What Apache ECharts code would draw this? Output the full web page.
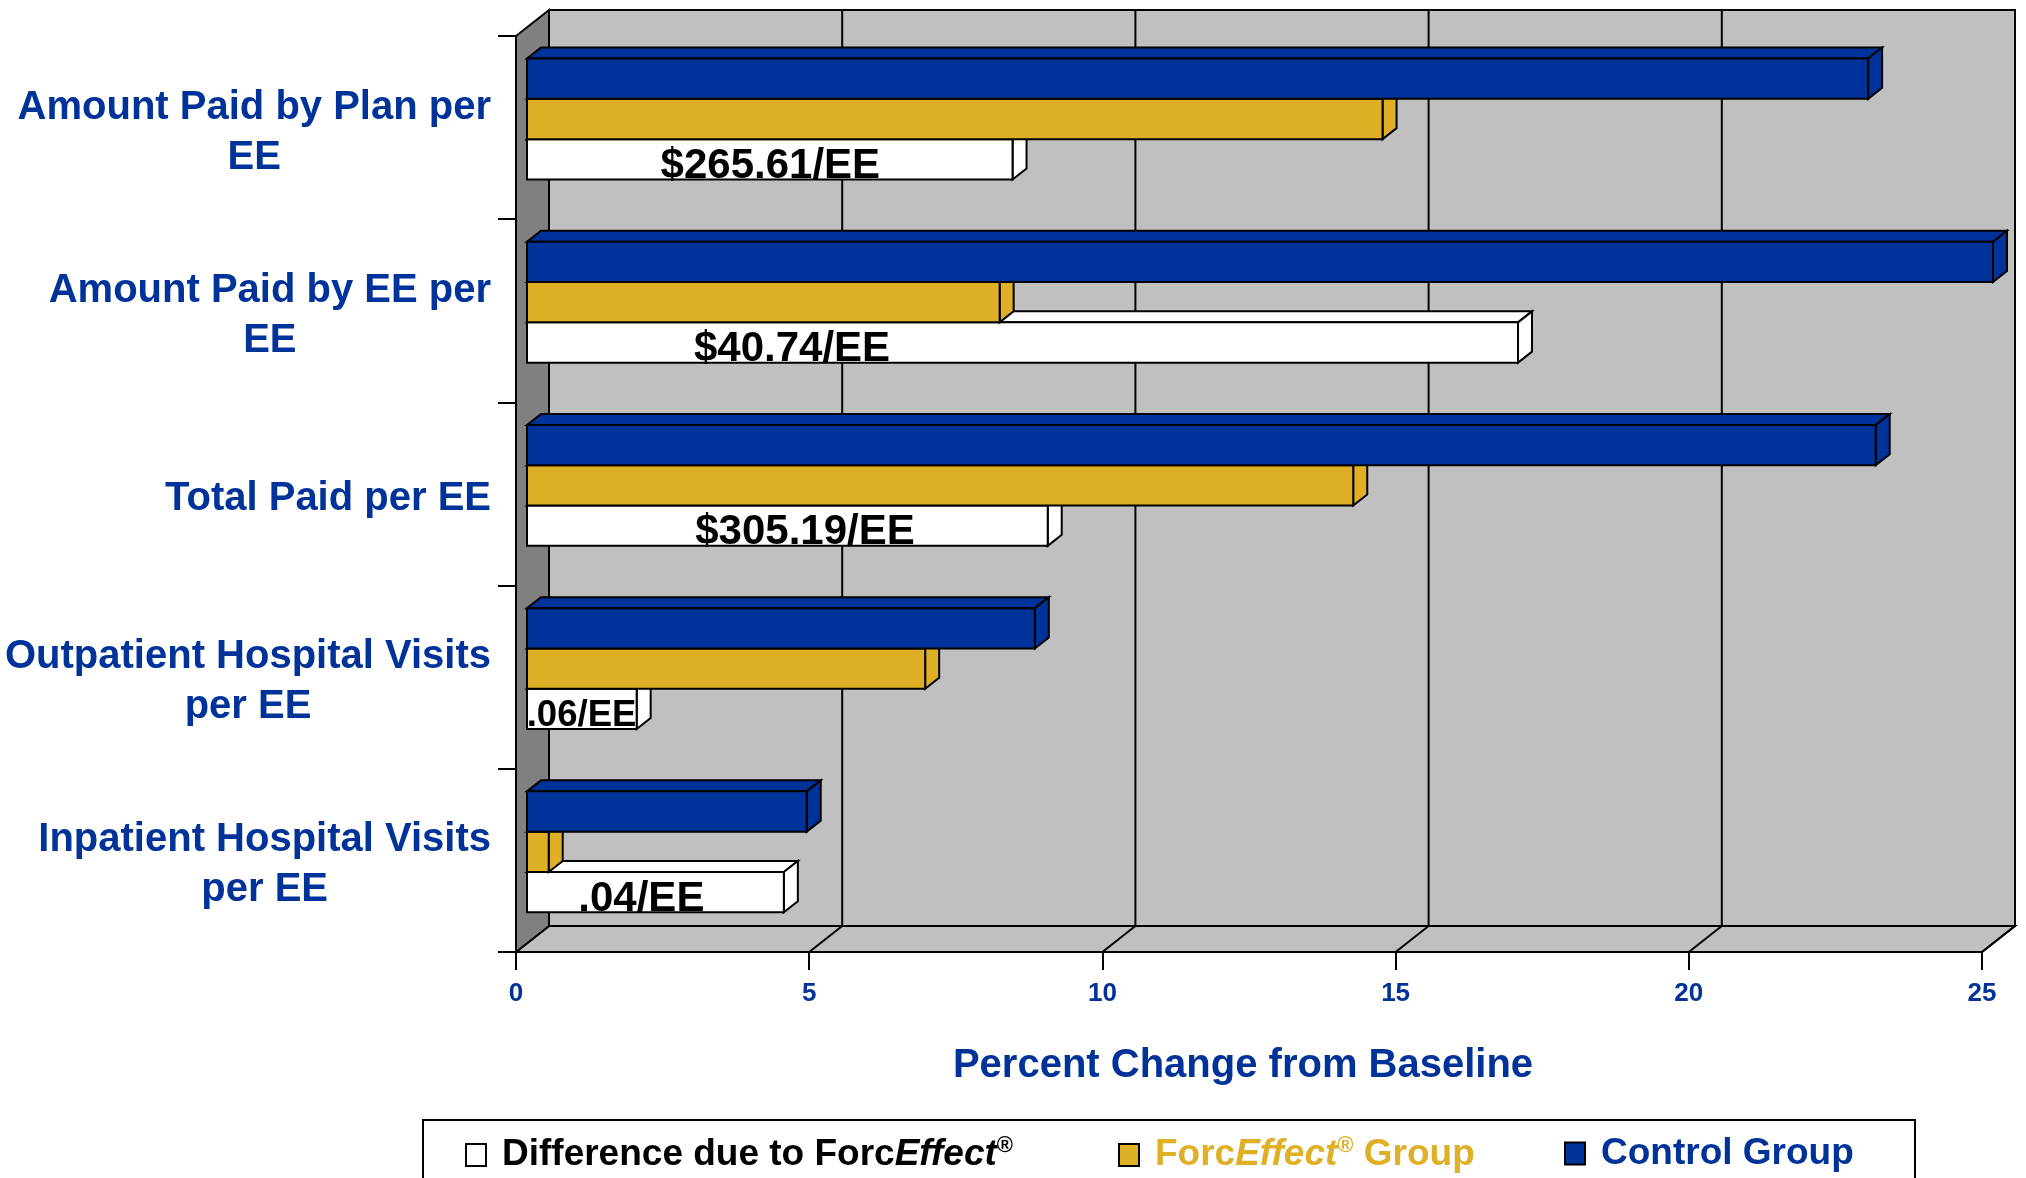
<!DOCTYPE html>
<html><head><meta charset="utf-8">
<script src="https://cdn.jsdelivr.net/npm/echarts@6/dist/echarts.min.js"></script>
<style>html,body{margin:0;padding:0;background:#fff}#c{width:2026px;height:1178px}</style>
</head><body><div id="c"></div>
<script>
// ---------------- data ----------------
const categories = [
  'Amount Paid by Plan per\nEE',
  'Amount Paid by EE per\nEE',
  'Total Paid per EE',
  'Outpatient Hospital Visits\nper EE',
  'Inpatient Hospital Visits\nper EE'
];
const controlGroup     = [22.87, 25.0, 23.0, 8.66, 4.77];
const forcEffectGroup  = [14.59, 8.06, 14.09, 6.79, 0.37];
const differenceValues = [8.28, 16.90, 8.88, 1.87, 4.38];
const differenceLabels = ['$265.61/EE', '$40.74/EE', '$305.19/EE', '.06/EE', '.04/EE'];
const differenceLabelAt = [4.15, 4.52, 4.74, 0.93, 1.95]; // annotation anchors, in axis units
const xTicks = [0, 5, 10, 15, 20, 25];
const seriesNames = ['Difference due to ForcEffect\u00AE', 'ForcEffect\u00AE Group', 'Control Group'];

// ---------------- style ----------------
const FONT = '"Liberation Sans", Arial, Helvetica, sans-serif';
const BLUE = '#003399', GOLD = '#DFB026', WHITE = '#FFFFFF', WALL = '#C0C0C0', SIDE = '#808080';
const DX = 33, DY = 26;     // wall depth
const BSX = 11, BSY = 8.6;  // bar front plane offset from front axis plane
const BDX = 14, BDY = 11;   // bar depth
const BAR_FRAC = 0.22;

const mctx = document.createElement('canvas').getContext('2d');
function measure(txt, font) { mctx.font = font; return mctx.measureText(txt).width; }

const S = { stroke: '#000', lineWidth: 2, lineJoin: 'miter' };
function line(x1, y1, x2, y2) {
  return { type: 'line', shape: { x1, y1, x2, y2 }, style: { stroke: '#000', lineWidth: 2 } };
}

function frameRender(params, api) {
  const cs = params.coordSys;
  const L = cs.x, T = cs.y, R = cs.x + cs.width, B = cs.y + cs.height;
  const ch = [];
  ch.push({ type: 'rect', shape: { x: L + DX, y: T - DY, width: R - L, height: B - T }, style: Object.assign({ fill: WALL }, S) });
  ch.push({ type: 'polygon', shape: { points: [[L, B], [L + DX, B - DY], [R + DX, B - DY], [R, B]] }, style: Object.assign({ fill: WALL }, S) });
  ch.push({ type: 'polygon', shape: { points: [[L, T], [L + DX, T - DY], [L + DX, B - DY], [L, B]] }, style: Object.assign({ fill: SIDE }, S) });
  xTicks.forEach(v => {
    if (v <= 0) return;
    const x = api.coord([v, 0])[0];
    ch.push(line(x + DX, T - DY, x + DX, B - DY));
    ch.push(line(x + DX, B - DY, x, B));
  });
  return { type: 'group', children: ch };
}

function makeBar(name, values, slot, color, z) {
  return {
    type: 'custom', name, coordinateSystem: 'cartesian2d', z, clip: false,
    data: values.map((v, i) => [v, i]), encode: { x: 0, y: 1 },
    itemStyle: { color, borderColor: '#000', borderWidth: 2 },
    renderItem: (params, api) => {
      const v = api.value(0), ci = api.value(1);
      const p0 = api.coord([0, ci]), p1 = api.coord([v, ci]);
      const h = api.size([0, 1])[1] * BAR_FRAC;
      const cy = p0[1] - BSY + slot * h;
      const yT = cy - h / 2, yB = cy + h / 2;
      const xl = p0[0] + BSX, xr = p1[0] + BSX;
      const st = Object.assign({ fill: color }, S);
      return { type: 'group', children: [
        { type: 'polygon', shape: { points: [[xl, yT], [xl + BDX, yT - BDY], [xr + BDX, yT - BDY], [xr, yT]] }, style: st },
        { type: 'polygon', shape: { points: [[xr, yT], [xr + BDX, yT - BDY], [xr + BDX, yB - BDY], [xr, yB]] }, style: st },
        { type: 'rect', shape: { x: xl, y: yT, width: xr - xl, height: h }, style: st }
      ] };
    }
  };
}

function rich(color) {
  const base = { color, fontFamily: FONT, fontWeight: 'bold', fontSize: 37, lineHeight: 40 };
  return {
    t: Object.assign({}, base),
    i: Object.assign({}, base, { fontStyle: 'italic' }),
    s: Object.assign({}, base, { fontSize: 22, lineHeight: 40, verticalAlign: 'top', padding: [0, 0, 14, 0] })
  };
}
function legendCfg(name, left, color, fmt) {
  return {
    data: [name], left, top: 1135, padding: 0, orient: 'horizontal',
    icon: 'rect', itemWidth: 20, itemHeight: 22, selectedMode: false,
    itemStyle: { borderColor: '#000', borderWidth: 2 },
    formatter: () => fmt,
    textStyle: { padding: [0, 0, 0, 11], color, fontFamily: FONT, fontWeight: 'bold', fontSize: 37, rich: rich(color) }
  };
}

const option = {
  animation: false,
  backgroundColor: '#fff',
  grid: { left: 516, top: 36, width: 1466, height: 916, containLabel: false, outerBoundsMode: 'none' },
  xAxis: {
    type: 'value', min: 0, max: 25, interval: 5,
    axisLine: { show: true, lineStyle: { color: '#000', width: 2 } },
    axisTick: { show: true, length: 18, lineStyle: { color: '#000', width: 2 } },
    axisLabel: { color: BLUE, fontFamily: FONT, fontWeight: 'bold', fontSize: 26, margin: 29,
      formatter: v => xTicks.indexOf(v) >= 0 ? String(v) : '' },
    splitLine: { show: false },
    name: 'Percent Change from Baseline', nameLocation: 'middle', nameGap: 94,
    nameTextStyle: { color: BLUE, fontFamily: FONT, fontWeight: 'bold', fontSize: 40, padding: [0, 12, 0, 0] }
  },
  yAxis: {
    type: 'category', inverse: true, data: categories,
    axisLine: { show: true, lineStyle: { color: '#000', width: 2 } },
    axisTick: { show: true, length: 18, lineStyle: { color: '#000', width: 2 } },
    axisLabel: { show: false },
    splitLine: { show: false }
  },
  legend: [
    legendCfg(seriesNames[0], 465, '#000', '{t|Difference due to Forc}{i|Effect}{s|\u00AE}'),
    legendCfg(seriesNames[1], 1118, GOLD, '{t|Forc}{i|Effect}{s|\u00AE}{t| Group}'),
    legendCfg(seriesNames[2], 1564, BLUE, '{t|Control Group}')
  ],
  graphic: [{
    type: 'rect', left: 422, top: 1119, z: -1,
    shape: { width: 1492, height: 120 },
    style: { fill: '#fff', stroke: '#000', lineWidth: 2 }
  }],
  series: [
    { type: 'custom', name: 'frame', z: 1, clip: false, data: [[0, 0]], encode: { x: 0, y: 1 }, renderItem: frameRender },
    makeBar(seriesNames[0], differenceValues, 1, WHITE, 2),
    makeBar(seriesNames[1], forcEffectGroup, 0, GOLD, 3),
    makeBar(seriesNames[2], controlGroup, -1, BLUE, 4),
    {
      type: 'custom', name: 'diffLabels', z: 6, clip: false,
      data: differenceLabelAt.map((v, i) => [v, i]), encode: { x: 0, y: 1 },
      renderItem: (params, api) => {
        const i = params.dataIndex;
        const c = api.coord([api.value(0), api.value(1)]);
        const h = api.size([0, 1])[1] * BAR_FRAC;
        const x0 = api.coord([0, i])[0], x1 = api.coord([differenceValues[i], i])[0];
        const txt = differenceLabels[i];
        const w = measure(txt, 'bold 42px ' + FONT);
        const fs = Math.min(42, 42 * (x1 - x0) / w);
        return { type: 'text', x: c[0] + BSX, y: c[1] - BSY + h + 7,
          style: { text: txt, fill: '#000', fontSize: fs, fontWeight: 'bold', fontFamily: FONT, align: 'center', verticalAlign: 'middle' } };
      }
    },
    {
      type: 'custom', name: 'catLabels', z: 6, clip: false,
      data: categories.map((c, i) => [0, i]), encode: { x: 0, y: 1 },
      renderItem: (params, api) => {
        const i = params.dataIndex;
        const cs = params.coordSys;
        const y = api.coord([0, api.value(1)])[1] + 5;
        const lines = categories[i].split('\n');
        const font = 'bold 40px ' + FONT;
        const mw = Math.max.apply(null, lines.map(l => measure(l, font)));
        return { type: 'text', x: cs.x - 25 - mw / 2, y,
          style: { text: categories[i], fill: BLUE, fontSize: 40, fontWeight: 'bold', fontFamily: FONT, lineHeight: 50, align: 'center', verticalAlign: 'middle' } };
      }
    }
  ]
};
const chart = echarts.init(document.getElementById('c'));
chart.setOption(option);
</script>
</body></html>
